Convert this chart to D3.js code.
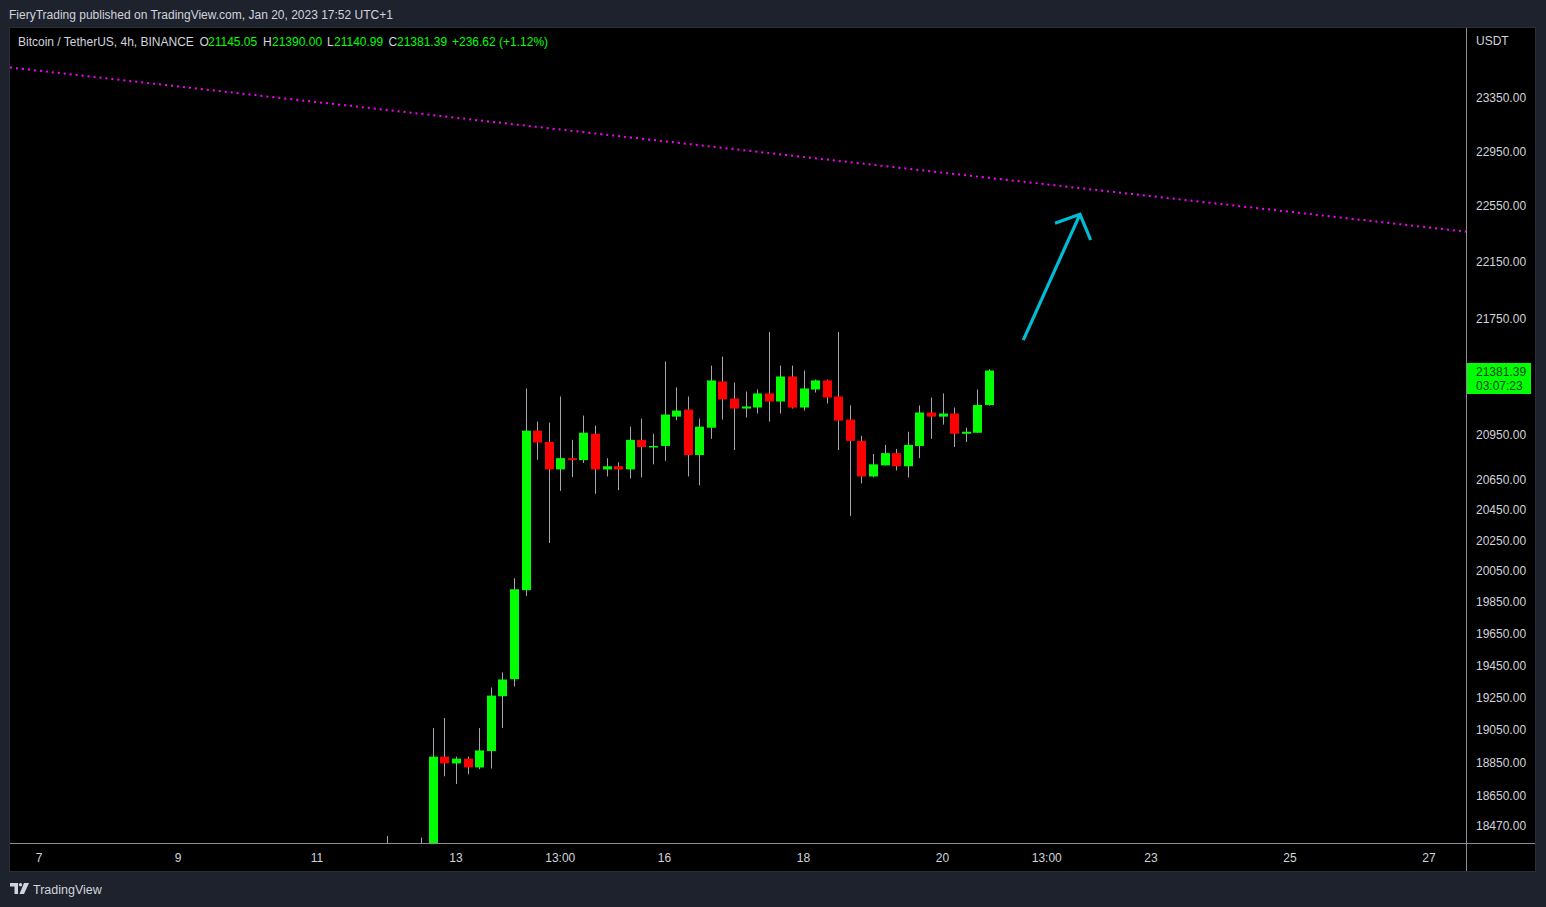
<!DOCTYPE html>
<html><head><meta charset="utf-8">
<script src="https://cdn.jsdelivr.net/npm/d3@7"></script>
<style>
html,body{margin:0;padding:0;background:#1e222d;}
svg{display:block;font-family:"Liberation Sans",Arial,sans-serif;}
</style></head>
<body>
<svg id="c" width="1546" height="907"></svg>
<script>
// ---------- data ----------
const times = [
"2023-01-12T00:00Z","2023-01-12T04:00Z","2023-01-12T08:00Z","2023-01-12T12:00Z","2023-01-12T16:00Z","2023-01-12T20:00Z",
"2023-01-13T00:00Z","2023-01-13T04:00Z","2023-01-13T08:00Z","2023-01-13T12:00Z","2023-01-13T16:00Z","2023-01-13T20:00Z",
"2023-01-14T00:00Z","2023-01-14T04:00Z","2023-01-14T08:00Z","2023-01-14T12:00Z","2023-01-14T16:00Z","2023-01-14T20:00Z",
"2023-01-15T00:00Z","2023-01-15T04:00Z","2023-01-15T08:00Z","2023-01-15T12:00Z","2023-01-15T16:00Z","2023-01-15T20:00Z",
"2023-01-16T00:00Z","2023-01-16T04:00Z","2023-01-16T08:00Z","2023-01-16T12:00Z","2023-01-16T16:00Z","2023-01-16T20:00Z",
"2023-01-17T00:00Z","2023-01-17T04:00Z","2023-01-17T08:00Z","2023-01-17T12:00Z","2023-01-17T16:00Z","2023-01-17T20:00Z",
"2023-01-18T00:00Z","2023-01-18T04:00Z","2023-01-18T08:00Z","2023-01-18T12:00Z","2023-01-18T16:00Z","2023-01-18T20:00Z",
"2023-01-19T00:00Z","2023-01-19T04:00Z","2023-01-19T08:00Z","2023-01-19T12:00Z","2023-01-19T16:00Z","2023-01-19T20:00Z",
"2023-01-20T00:00Z","2023-01-20T04:00Z","2023-01-20T08:00Z","2023-01-20T12:00Z","2023-01-20T16:00Z"];
const opens  = [17940,18010,18030,18060,18150,18881, 18840,18869,18816,18915,19252,19358, 19921,20971,20895,20711,20786,20773,
                20950,20711,20732,20711,20909,20861, 20868,21066,21114,20807,20991,21306, 21189,21121,21128,21224,21169,21340,
                21128,21251,21313,21203,21046,20902, 20664,20738,20820,20732,20868,21094, 21066,21087,20950,20957,21145.05];
const highs  = [18405,18080,18090,18395,19056,19117, 18881,18881,19056,19306,19400,19998, 21258,21032,21025,21203,20909,21073,
                21005,20786,20759,20998,21053,20950, 21444,21265,21203,21053,21415,21477, 21299,21237,21251,21648,21415,21415,
                21381,21319,21319,21648,21142,20936, 20814,20875,20848,20964,21142,21196, 21224,21128,20991,21251,21390.00];
const lows   = [17880,17950,17980,17800,18120,18762, 18715,18774,18805,18809,19056,19312, 19884,20775,20226,20568,20659,20754,
                20549,20664,20573,20650,20657,20745, 20768,21041,20664,20605,20916,21046, 20841,21060,21087,21032,21087,21121,
                21107,21230,21155,20841,20403,20618, 20657,20738,20704,20657,20786,20916, 21012,20861,20895,20957,21140.99];
const closes = [18010,18030,18060,18150,18881,18840, 18869,18816,18919,19256,19356,19927, 20971,20891,20711,20786,20773,20957,
                20711,20732,20711,20909,20861,20868, 21080,21107,20807,20998,21313,21183, 21121,21135,21224,21169,21340,21128,
                21258,21313,21196,21039,20902,20664, 20745,20820,20732,20875,21094,21066, 21087,20950,20964,21145,21381.39];

const priceTicks = [23350,22950,22550,22150,21750,20950,20650,20450,20250,20050,19850,19650,19450,19250,19050,18850,18650,18470];
const timeTickDates  = ["2023-01-07T00:00Z","2023-01-09T00:00Z","2023-01-11T00:00Z","2023-01-13T00:00Z","2023-01-14T12:00Z","2023-01-16T00:00Z",
                        "2023-01-18T00:00Z","2023-01-20T00:00Z","2023-01-21T12:00Z","2023-01-23T00:00Z","2023-01-25T00:00Z","2023-01-27T00:00Z"];
const timeTickLabels = ["7","9","11","13","13:00","16","18","20","13:00","23","25","27"];

const trendTimes  = ["2023-01-06T14:00Z","2023-01-27T12:46Z"];
const trendPrices = [23573,22359];
const arrowTimes  = ["2023-01-21T03:54Z","2023-01-21T23:28Z","2023-01-21T14:51Z","2023-01-22T03:10Z"];
const arrowPrices = [21592,22484,22420,22299];

const lastPrice = "21381.39", countdown = "03:07:23";

// ---------- layout ----------
const svg = d3.select("#c");
const P = {l:10, t:28, r:1466, b:843, right:1535, bottom:871};
const x = d3.scaleUtc().domain([new Date("2023-01-07T00:00Z"), new Date("2023-01-27T00:00Z")]).range([39,1429]);
const y = d3.scaleLog().domain([18470,23350]).range([825,97]);

// background panel
svg.append("rect").attr("x",9.5).attr("y",27.5).attr("width",P.right-9).attr("height",P.bottom-27)
  .attr("fill","#000").attr("stroke","#2a2e39");

// header
svg.append("text").attr("x",9).attr("y",19).attr("font-size",12).attr("fill","#d1d4dc")
  .text("FieryTrading published on TradingView.com, Jan 20, 2023 17:52 UTC+1");

const hdr = [
  {x:18, t:"Bitcoin / TetherUS, 4h, BINANCE", c:"#d1d4dc"},
  {x:199.5, t:"O", c:"#d1d4dc"},{x:208, t:"21145.05", c:"#00ff00"},
  {x:263, t:"H", c:"#d1d4dc"},{x:272, t:"21390.00", c:"#00ff00"},
  {x:327, t:"L", c:"#d1d4dc"},{x:334, t:"21140.99", c:"#00ff00"},
  {x:388.5, t:"C", c:"#d1d4dc"},{x:397, t:"21381.39", c:"#00ff00"},
  {x:452, t:"+236.62 (+1.12%)", c:"#00ff00"}];
svg.append("g").selectAll("text").data(hdr).join("text")
  .attr("x",d=>d.x).attr("y",46).attr("font-size",12).attr("fill",d=>d.c).text(d=>d.t);

// clip
svg.append("clipPath").attr("id","plot").append("rect")
  .attr("x",P.l).attr("y",P.t).attr("width",P.r-P.l).attr("height",P.b-P.t);
const g = svg.append("g").attr("clip-path","url(#plot)");

// trend line (dotted magenta)
g.append("line")
  .attr("x1",x(new Date(trendTimes[0]))).attr("y1",y(trendPrices[0]))
  .attr("x2",x(new Date(trendTimes[1]))).attr("y2",y(trendPrices[1]))
  .attr("stroke","#ff00ff").attr("stroke-width",2).attr("stroke-dasharray","2 4");

// candles
const data = times.map((t,i)=>({t:new Date(t),o:opens[i],h:highs[i],l:lows[i],c:closes[i]}));
const cg = g.append("g");
cg.selectAll("line.w").data(data).join("line").attr("class","w")
  .attr("x1",d=>Math.round(x(d.t))+0.5).attr("x2",d=>Math.round(x(d.t))+0.5)
  .attr("y1",d=>y(d.h)).attr("y2",d=>y(d.l))
  .attr("stroke","#a3a6af").attr("stroke-width",1);
cg.selectAll("rect.b").data(data).join("rect").attr("class","b")
  .attr("x",d=>Math.round(x(d.t))-4).attr("width",9)
  .attr("y",d=>Math.min(y(d.o),y(d.c)))
  .attr("height",d=>Math.max(1.5,Math.abs(y(d.o)-y(d.c))))
  .attr("fill",d=>d.c>=d.o?"#00ff00":"#ff0000");

// arrow
const ap = arrowTimes.map((t,i)=>[x(new Date(t)),y(arrowPrices[i])]);
g.append("path")
  .attr("d",`M${ap[0]}L${ap[1]}M${ap[2]}L${ap[1]}L${ap[3]}`)
  .attr("fill","none").attr("stroke","#00bcd4").attr("stroke-width",3.2)
  .attr("stroke-linecap","butt").attr("stroke-linejoin","miter");

// axis separator lines
svg.append("line").attr("x1",P.l).attr("x2",P.right).attr("y1",P.b+0.5).attr("y2",P.b+0.5).attr("stroke","#8a8d96");
svg.append("line").attr("x1",P.r+0.5).attr("x2",P.r+0.5).attr("y1",P.t).attr("y2",P.bottom).attr("stroke","#8a8d96");

// price axis labels
svg.append("text").attr("x",1476).attr("y",45).attr("font-size",12).attr("fill","#d1d4dc").text("USDT");
svg.append("g").selectAll("text").data(priceTicks).join("text")
  .attr("x",1476).attr("y",d=>y(d)+1).attr("dy","0.35em").attr("font-size",12).attr("fill","#d1d4dc")
  .text(d=>d3.format(".2f")(d));

// last price box
svg.append("rect").attr("x",1467).attr("y",363).attr("width",64).attr("height",31).attr("fill","#00ff00");
svg.append("text").attr("x",1476).attr("y",376).attr("font-size",12).attr("fill","#0f3f0f").text(lastPrice);
svg.append("text").attr("x",1476).attr("y",390).attr("font-size",12).attr("fill","#0f3f0f").text(countdown);

// time axis labels
svg.append("g").selectAll("text").data(timeTickDates).join("text")
  .attr("x",d=>x(new Date(d))).attr("y",862).attr("text-anchor","middle")
  .attr("font-size",12).attr("fill","#d1d4dc").text((d,i)=>timeTickLabels[i]);

// footer logo
const lg = svg.append("g").attr("transform","translate(10,883)").attr("fill","#d1d4dc");
lg.append("path").attr("d","M0 0H8V11H4.5V3.5H0Z");
lg.append("circle").attr("cx",10.5).attr("cy",1.7).attr("r",1.7);
lg.append("path").attr("d","M14 0H19L14 11H9.5Z");
svg.append("text").attr("x",33).attr("y",894).attr("font-size",12.5).attr("fill","#d1d4dc").text("TradingView");
</script>
</body></html>
